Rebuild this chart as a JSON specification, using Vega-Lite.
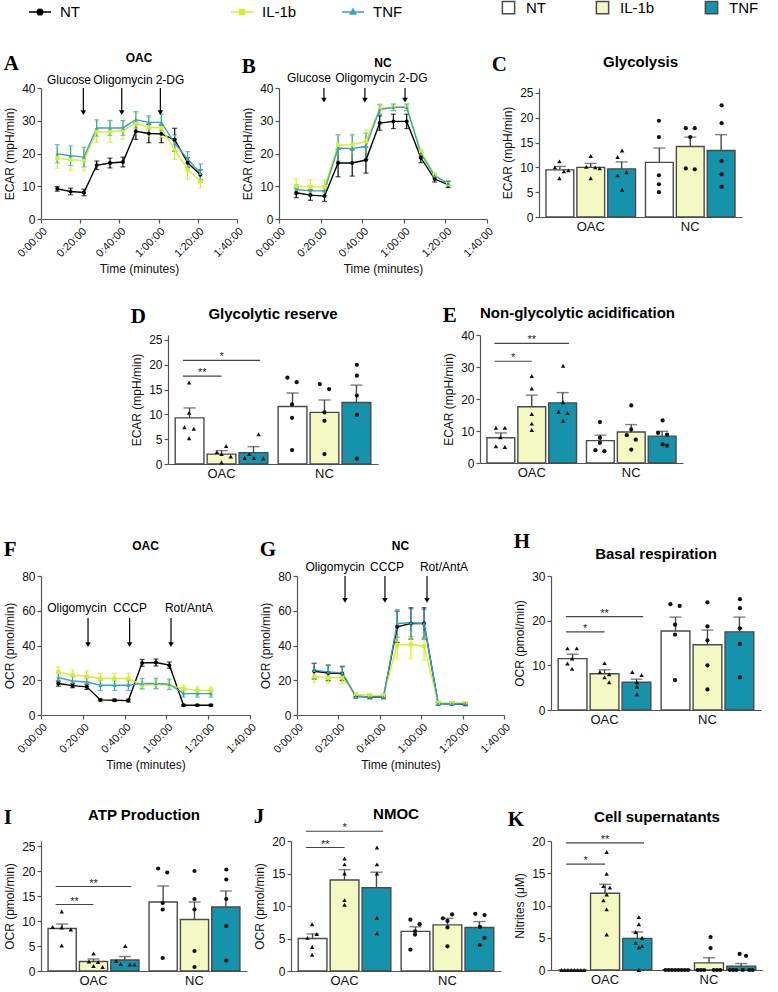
{
"$schema":"https://vega.github.io/schema/vega-lite/v6.json",
"padding":{"left":3,"top":0,"right":0,"bottom":0},
"autosize":{"type":"pad"},
"background":"white",
"config":{
 "font":"Liberation Sans",
 "view":{"stroke":null},
 "axis":{"labelFont":"Liberation Sans","titleFont":"Liberation Sans","labelFontSize":12,"titleFontSize":12,"titleFontWeight":"normal","labelColor":"#111","titleColor":"#111","domainColor":"#555","tickColor":"#555","domainWidth":1.2,"tickWidth":1.2,"tickSize":4,"grid":false,"labelPadding":2,"titlePadding":5,"labelOverlap":false},
 "axisY":{"labelOverlap":false},
 "title":{"font":"Liberation Sans","fontWeight":"bold","fontSize":12,"color":"#000","offset":6,"frame":"group"},
 "legend":{"labelFont":"Liberation Sans"}
},
"datasets":{
"kin":[
{"p":"A","g":"NT","t":8.3,"v":9.2,"e":0.7},{"p":"A","g":"NT","t":15.1,"v":8.4,"e":1},{"p":"A","g":"NT","t":21.9,"v":8.1,"e":1},{"p":"A","g":"NT","t":28.4,"v":16.4,"e":1.3},{"p":"A","g":"NT","t":35.2,"v":17.1,"e":1.5},{"p":"A","g":"NT","t":41.8,"v":17.4,"e":1.5},{"p":"A","g":"NT","t":48.4,"v":26.8,"e":2.5},{"p":"A","g":"NT","t":55,"v":26.1,"e":2.8},{"p":"A","g":"NT","t":61.4,"v":26,"e":2.7},{"p":"A","g":"NT","t":68.2,"v":24.2,"e":3.5},{"p":"A","g":"NT","t":74.8,"v":17.2,"e":1.5},{"p":"A","g":"NT","t":81.3,"v":13.5,"e":1.5},
{"p":"A","g":"IL-1b","t":8.3,"v":18.5,"e":3},{"p":"A","g":"IL-1b","t":15.1,"v":18.1,"e":3.2},{"p":"A","g":"IL-1b","t":21.9,"v":17.9,"e":3.2},{"p":"A","g":"IL-1b","t":28.4,"v":26.6,"e":3.2},{"p":"A","g":"IL-1b","t":35.2,"v":26.6,"e":3.2},{"p":"A","g":"IL-1b","t":41.8,"v":27.1,"e":2.8},{"p":"A","g":"IL-1b","t":48.4,"v":29.1,"e":3.3},{"p":"A","g":"IL-1b","t":55,"v":28,"e":3},{"p":"A","g":"IL-1b","t":61.4,"v":27.8,"e":3},{"p":"A","g":"IL-1b","t":68.2,"v":21.2,"e":3},{"p":"A","g":"IL-1b","t":74.8,"v":15.1,"e":3},{"p":"A","g":"IL-1b","t":81.3,"v":11.5,"e":2},
{"p":"A","g":"TNF","t":8.3,"v":19.9,"e":2.8},{"p":"A","g":"TNF","t":15.1,"v":19.3,"e":3},{"p":"A","g":"TNF","t":21.9,"v":18.9,"e":3},{"p":"A","g":"TNF","t":28.4,"v":27.8,"e":2.5},{"p":"A","g":"TNF","t":35.2,"v":27.8,"e":2.3},{"p":"A","g":"TNF","t":41.8,"v":27.8,"e":2.3},{"p":"A","g":"TNF","t":48.4,"v":30.3,"e":2.5},{"p":"A","g":"TNF","t":55,"v":29.5,"e":2},{"p":"A","g":"TNF","t":61.4,"v":29.5,"e":2.5},{"p":"A","g":"TNF","t":68.2,"v":23.2,"e":2.5},{"p":"A","g":"TNF","t":74.8,"v":18.3,"e":2.3},{"p":"A","g":"TNF","t":81.3,"v":14,"e":2.8},
{"p":"B","g":"NT","t":8.3,"v":8,"e":1.5},{"p":"B","g":"NT","t":15.1,"v":7.3,"e":1.6},{"p":"B","g":"NT","t":21.9,"v":7,"e":1.6},{"p":"B","g":"NT","t":28.4,"v":17.1,"e":4.2},{"p":"B","g":"NT","t":35.2,"v":17.1,"e":4},{"p":"B","g":"NT","t":41.8,"v":18,"e":4},{"p":"B","g":"NT","t":48.4,"v":29.3,"e":2.2},{"p":"B","g":"NT","t":55,"v":29.8,"e":2.2},{"p":"B","g":"NT","t":61.4,"v":29.8,"e":2.2},{"p":"B","g":"NT","t":68.2,"v":18.7,"e":1.5},{"p":"B","g":"NT","t":74.8,"v":12.2,"e":0.9},{"p":"B","g":"NT","t":81.3,"v":10.5,"e":0.9},
{"p":"B","g":"IL-1b","t":8.3,"v":10,"e":2.2},{"p":"B","g":"IL-1b","t":15.1,"v":9.8,"e":2.2},{"p":"B","g":"IL-1b","t":21.9,"v":9.8,"e":2.2},{"p":"B","g":"IL-1b","t":28.4,"v":22.6,"e":3.2},{"p":"B","g":"IL-1b","t":35.2,"v":22.7,"e":3.2},{"p":"B","g":"IL-1b","t":41.8,"v":23.7,"e":3.5},{"p":"B","g":"IL-1b","t":48.4,"v":33.7,"e":1.5},{"p":"B","g":"IL-1b","t":55,"v":34.1,"e":1},{"p":"B","g":"IL-1b","t":61.4,"v":34.1,"e":1},{"p":"B","g":"IL-1b","t":68.2,"v":20.7,"e":0.5},{"p":"B","g":"IL-1b","t":74.8,"v":13.5,"e":0.5},{"p":"B","g":"IL-1b","t":81.3,"v":10.7,"e":0.5},
{"p":"B","g":"TNF","t":8.3,"v":9,"e":1.5},{"p":"B","g":"TNF","t":15.1,"v":8.6,"e":1.5},{"p":"B","g":"TNF","t":21.9,"v":8.6,"e":1.5},{"p":"B","g":"TNF","t":28.4,"v":21.7,"e":4},{"p":"B","g":"TNF","t":35.2,"v":21.5,"e":4.2},{"p":"B","g":"TNF","t":41.8,"v":22.2,"e":4},{"p":"B","g":"TNF","t":48.4,"v":33.4,"e":1.5},{"p":"B","g":"TNF","t":55,"v":34.1,"e":1},{"p":"B","g":"TNF","t":61.4,"v":34.1,"e":1},{"p":"B","g":"TNF","t":68.2,"v":20,"e":0.8},{"p":"B","g":"TNF","t":74.8,"v":13.2,"e":0.6},{"p":"B","g":"TNF","t":81.3,"v":10.9,"e":0.8},
{"p":"F","g":"NT","t":8.3,"v":18.1,"e":1.5},{"p":"F","g":"NT","t":15.1,"v":16.9,"e":1.2},{"p":"F","g":"NT","t":21.9,"v":16.2,"e":1.5},{"p":"F","g":"NT","t":28.4,"v":8.7,"e":0.6},{"p":"F","g":"NT","t":35.2,"v":8.5,"e":0.6},{"p":"F","g":"NT","t":41.8,"v":8.3,"e":0.8},{"p":"F","g":"NT","t":48.4,"v":30,"e":2},{"p":"F","g":"NT","t":55,"v":30.2,"e":2},{"p":"F","g":"NT","t":61.4,"v":28.7,"e":1.8},{"p":"F","g":"NT","t":68.2,"v":5.6,"e":0.5},{"p":"F","g":"NT","t":74.8,"v":5.6,"e":0.5},{"p":"F","g":"NT","t":81.3,"v":5.6,"e":0.5},
{"p":"F","g":"IL-1b","t":8.3,"v":24.8,"e":3},{"p":"F","g":"IL-1b","t":15.1,"v":22.9,"e":3},{"p":"F","g":"IL-1b","t":21.9,"v":22.3,"e":3},{"p":"F","g":"IL-1b","t":28.4,"v":21,"e":3},{"p":"F","g":"IL-1b","t":35.2,"v":21,"e":3},{"p":"F","g":"IL-1b","t":41.8,"v":21,"e":3},{"p":"F","g":"IL-1b","t":48.4,"v":17.1,"e":2.5},{"p":"F","g":"IL-1b","t":55,"v":17.7,"e":2.5},{"p":"F","g":"IL-1b","t":61.4,"v":17.1,"e":2.5},{"p":"F","g":"IL-1b","t":68.2,"v":15.2,"e":2},{"p":"F","g":"IL-1b","t":74.8,"v":14.2,"e":2},{"p":"F","g":"IL-1b","t":81.3,"v":14.2,"e":2},
{"p":"F","g":"TNF","t":8.3,"v":21.5,"e":2.5},{"p":"F","g":"TNF","t":15.1,"v":19.6,"e":2.5},{"p":"F","g":"TNF","t":21.9,"v":19,"e":2.5},{"p":"F","g":"TNF","t":28.4,"v":17.1,"e":3},{"p":"F","g":"TNF","t":35.2,"v":17.1,"e":3},{"p":"F","g":"TNF","t":41.8,"v":17.1,"e":3},{"p":"F","g":"TNF","t":48.4,"v":18.1,"e":3},{"p":"F","g":"TNF","t":55,"v":18.1,"e":3},{"p":"F","g":"TNF","t":61.4,"v":17.7,"e":3},{"p":"F","g":"TNF","t":68.2,"v":12.3,"e":2},{"p":"F","g":"TNF","t":74.8,"v":12.3,"e":2},{"p":"F","g":"TNF","t":81.3,"v":12.3,"e":2},
{"p":"G","g":"NT","t":8.3,"v":25.2,"e":4.5},{"p":"G","g":"NT","t":15.1,"v":24.2,"e":4.5},{"p":"G","g":"NT","t":21.9,"v":23.8,"e":4},{"p":"G","g":"NT","t":28.4,"v":10.8,"e":1},{"p":"G","g":"NT","t":35.2,"v":10.4,"e":1},{"p":"G","g":"NT","t":41.8,"v":10.4,"e":1},{"p":"G","g":"NT","t":48.4,"v":50.8,"e":9},{"p":"G","g":"NT","t":55,"v":52.7,"e":9},{"p":"G","g":"NT","t":61.4,"v":52.7,"e":9},{"p":"G","g":"NT","t":68.2,"v":6.5,"e":0.8},{"p":"G","g":"NT","t":74.8,"v":6.5,"e":0.8},{"p":"G","g":"NT","t":81.3,"v":6.2,"e":0.8},
{"p":"G","g":"IL-1b","t":8.3,"v":22.3,"e":3.5},{"p":"G","g":"IL-1b","t":15.1,"v":21.5,"e":3.5},{"p":"G","g":"IL-1b","t":21.9,"v":21.5,"e":3.5},{"p":"G","g":"IL-1b","t":28.4,"v":11.9,"e":1},{"p":"G","g":"IL-1b","t":35.2,"v":11.3,"e":1},{"p":"G","g":"IL-1b","t":41.8,"v":11.3,"e":1},{"p":"G","g":"IL-1b","t":48.4,"v":40.2,"e":8},{"p":"G","g":"IL-1b","t":55,"v":40.6,"e":8},{"p":"G","g":"IL-1b","t":61.4,"v":39.6,"e":8},{"p":"G","g":"IL-1b","t":68.2,"v":6.9,"e":0.8},{"p":"G","g":"IL-1b","t":74.8,"v":6.9,"e":0.8},{"p":"G","g":"IL-1b","t":81.3,"v":6.9,"e":0.8},
{"p":"G","g":"TNF","t":8.3,"v":25.8,"e":4},{"p":"G","g":"TNF","t":15.1,"v":24.8,"e":4},{"p":"G","g":"TNF","t":21.9,"v":24.2,"e":4},{"p":"G","g":"TNF","t":28.4,"v":10.8,"e":1},{"p":"G","g":"TNF","t":35.2,"v":10.4,"e":1},{"p":"G","g":"TNF","t":41.8,"v":10.4,"e":1},{"p":"G","g":"TNF","t":48.4,"v":52.7,"e":8},{"p":"G","g":"TNF","t":55,"v":53.1,"e":8},{"p":"G","g":"TNF","t":61.4,"v":52.7,"e":8},{"p":"G","g":"TNF","t":68.2,"v":6.5,"e":0.8},{"p":"G","g":"TNF","t":74.8,"v":6.5,"e":0.8},{"p":"G","g":"TNF","t":81.3,"v":6.5,"e":0.8}
],
"inj":[
{"p":"A","lab":"Glucose","x":21.6,"lx":14.3,"ly":42.4,"y1":40,"y2":32.5},
{"p":"A","lab":"Oligomycin","x":41.2,"lx":41.8,"ly":42.4,"y1":40,"y2":32.5},
{"p":"A","lab":"2-DG","x":60.9,"lx":65.8,"ly":42.4,"y1":40,"y2":32.5},
{"p":"B","lab":"Glucose","x":21.6,"lx":14.4,"ly":43.2,"y1":40,"y2":36.3},
{"p":"B","lab":"Oligomycin","x":41.3,"lx":41.3,"ly":43.2,"y1":40,"y2":36.3},
{"p":"B","lab":"2-DG","x":60.6,"lx":64.5,"ly":43.2,"y1":40,"y2":36.3},
{"p":"F","lab":"Oligomycin","x":22.5,"lx":17.2,"ly":61.6,"y1":55.8,"y2":40.5},
{"p":"F","lab":"CCCP","x":42.4,"lx":42.6,"ly":61.6,"y1":55.8,"y2":40.5},
{"p":"F","lab":"Rot/AntA","x":62.2,"lx":70.8,"ly":61.6,"y1":55.8,"y2":40.5},
{"p":"G","lab":"Oligomycin","x":23.2,"lx":18.4,"ly":85.2,"y1":80,"y2":66},
{"p":"G","lab":"CCCP","x":42.5,"lx":43.5,"ly":85.2,"y1":80,"y2":66},
{"p":"G","lab":"Rot/AntA","x":62.8,"lx":71,"ly":85.2,"y1":80,"y2":66}
],
"bars":[
{"p":"C","r":"OAC","g":"NT","m":9.5,"h":10.2},{"p":"C","r":"OAC","g":"IL-1b","m":10,"h":10.8},{"p":"C","r":"OAC","g":"TNF","m":9.7,"h":11.1},{"p":"C","r":"NC","g":"NT","m":11,"h":13.9},{"p":"C","r":"NC","g":"IL-1b","m":14.2,"h":16.1},{"p":"C","r":"NC","g":"TNF","m":13.4,"h":16.6},
{"p":"D","r":"OAC","g":"NT","m":9.3,"h":11.3},{"p":"D","r":"OAC","g":"IL-1b","m":2,"h":2.7},{"p":"D","r":"OAC","g":"TNF","m":2.3,"h":3.5},{"p":"D","r":"NC","g":"NT","m":11.6,"h":14.3},{"p":"D","r":"NC","g":"IL-1b","m":10.4,"h":12.9},{"p":"D","r":"NC","g":"TNF","m":12.4,"h":15.9},
{"p":"E","r":"OAC","g":"NT","m":7.9,"h":9.4},{"p":"E","r":"OAC","g":"IL-1b","m":17.6,"h":21.2},{"p":"E","r":"OAC","g":"TNF","m":18.8,"h":22},{"p":"E","r":"NC","g":"NT","m":7,"h":8.7},{"p":"E","r":"NC","g":"IL-1b","m":9.7,"h":12},{"p":"E","r":"NC","g":"TNF","m":8.4,"h":9.9},
{"p":"H","r":"OAC","g":"NT","m":11.5,"h":12.5},{"p":"H","r":"OAC","g":"IL-1b","m":8.1,"h":9},{"p":"H","r":"OAC","g":"TNF","m":6.2,"h":6.9},{"p":"H","r":"NC","g":"NT","m":17.7,"h":20.8},{"p":"H","r":"NC","g":"IL-1b","m":14.6,"h":17.9},{"p":"H","r":"NC","g":"TNF","m":17.5,"h":20.8},
{"p":"I","r":"OAC","g":"NT","m":8.5,"h":9.4},{"p":"I","r":"OAC","g":"IL-1b","m":1.9,"h":2.4},{"p":"I","r":"OAC","g":"TNF","m":2.2,"h":2.9},{"p":"I","r":"NC","g":"NT","m":13.8,"h":17},{"p":"I","r":"NC","g":"IL-1b","m":10.3,"h":13.8},{"p":"I","r":"NC","g":"TNF","m":12.8,"h":16},
{"p":"J","r":"OAC","g":"NT","m":5,"h":5.7},{"p":"J","r":"OAC","g":"IL-1b","m":14,"h":15.6},{"p":"J","r":"OAC","g":"TNF","m":12.8,"h":15.2},{"p":"J","r":"NC","g":"NT","m":6.1,"h":6.8},{"p":"J","r":"NC","g":"IL-1b","m":7.1,"h":8.1},{"p":"J","r":"NC","g":"TNF","m":6.7,"h":7.6},
{"p":"K","r":"OAC","g":"NT","m":0,"h":0},{"p":"K","r":"OAC","g":"IL-1b","m":11.9,"h":13.3},{"p":"K","r":"OAC","g":"TNF","m":4.9,"h":5.9},{"p":"K","r":"NC","g":"NT","m":0,"h":0},{"p":"K","r":"NC","g":"IL-1b","m":1.1,"h":1.9},{"p":"K","r":"NC","g":"TNF","m":0.6,"h":1}
],
"pts":[
{"p":"C","r":"OAC","g":"NT","k":3,"v":11.2},{"p":"C","r":"OAC","g":"NT","k":2,"v":10},{"p":"C","r":"OAC","g":"NT","k":5,"v":9.4},{"p":"C","r":"OAC","g":"NT","k":4,"v":9.2},{"p":"C","r":"OAC","g":"NT","k":3,"v":7.8},
{"p":"C","r":"OAC","g":"IL-1b","k":3,"v":12.3},{"p":"C","r":"OAC","g":"IL-1b","k":2,"v":10.1},{"p":"C","r":"OAC","g":"IL-1b","k":4,"v":10},{"p":"C","r":"OAC","g":"IL-1b","k":5,"v":9.8},{"p":"C","r":"OAC","g":"IL-1b","k":3,"v":7.8},
{"p":"C","r":"OAC","g":"TNF","k":3,"v":13.4},{"p":"C","r":"OAC","g":"TNF","k":2,"v":12.1},{"p":"C","r":"OAC","g":"TNF","k":4,"v":9},{"p":"C","r":"OAC","g":"TNF","k":2,"v":8.4},{"p":"C","r":"OAC","g":"TNF","k":3,"v":5.5},
{"p":"C","r":"NC","g":"NT","k":3,"v":19.4},{"p":"C","r":"NC","g":"NT","k":3,"v":16.1},{"p":"C","r":"NC","g":"NT","k":3,"v":8.4},{"p":"C","r":"NC","g":"NT","k":3,"v":6.6},{"p":"C","r":"NC","g":"NT","k":3,"v":5},
{"p":"C","r":"NC","g":"IL-1b","k":2,"v":17.9},{"p":"C","r":"NC","g":"IL-1b","k":4,"v":17.9},{"p":"C","r":"NC","g":"IL-1b","k":3,"v":16.1},{"p":"C","r":"NC","g":"IL-1b","k":2,"v":9.8},{"p":"C","r":"NC","g":"IL-1b","k":4,"v":9.6},
{"p":"C","r":"NC","g":"TNF","k":3,"v":22.5},{"p":"C","r":"NC","g":"TNF","k":3,"v":18.9},{"p":"C","r":"NC","g":"TNF","k":3,"v":11.3},{"p":"C","r":"NC","g":"TNF","k":3,"v":8.6},{"p":"C","r":"NC","g":"TNF","k":3,"v":6.1},
{"p":"D","r":"OAC","g":"NT","k":3,"v":16.4},{"p":"D","r":"OAC","g":"NT","k":3,"v":10.3},{"p":"D","r":"OAC","g":"NT","k":2,"v":7.4},{"p":"D","r":"OAC","g":"NT","k":4,"v":7.1},{"p":"D","r":"OAC","g":"NT","k":3,"v":5.2},
{"p":"D","r":"OAC","g":"IL-1b","k":4,"v":3.6},{"p":"D","r":"OAC","g":"IL-1b","k":2,"v":2.4},{"p":"D","r":"OAC","g":"IL-1b","k":3,"v":2},{"p":"D","r":"OAC","g":"IL-1b","k":5,"v":1.5},{"p":"D","r":"OAC","g":"IL-1b","k":3,"v":0.3},
{"p":"D","r":"OAC","g":"TNF","k":4,"v":6},{"p":"D","r":"OAC","g":"TNF","k":2,"v":2},{"p":"D","r":"OAC","g":"TNF","k":1,"v":1.2},{"p":"D","r":"OAC","g":"TNF","k":3,"v":1.2},{"p":"D","r":"OAC","g":"TNF","k":5,"v":1.1},
{"p":"D","r":"NC","g":"NT","k":2,"v":17.4},{"p":"D","r":"NC","g":"NT","k":4,"v":16.5},{"p":"D","r":"NC","g":"NT","k":3,"v":12},{"p":"D","r":"NC","g":"NT","k":3,"v":9.3},{"p":"D","r":"NC","g":"NT","k":3,"v":2.8},
{"p":"D","r":"NC","g":"IL-1b","k":2,"v":16.1},{"p":"D","r":"NC","g":"IL-1b","k":4,"v":15.1},{"p":"D","r":"NC","g":"IL-1b","k":3,"v":10.4},{"p":"D","r":"NC","g":"IL-1b","k":3,"v":8.7},{"p":"D","r":"NC","g":"IL-1b","k":3,"v":2},
{"p":"D","r":"NC","g":"TNF","k":3,"v":20},{"p":"D","r":"NC","g":"TNF","k":3,"v":17.8},{"p":"D","r":"NC","g":"TNF","k":3,"v":13.8},{"p":"D","r":"NC","g":"TNF","k":3,"v":9.9},{"p":"D","r":"NC","g":"TNF","k":3,"v":1.1},
{"p":"E","r":"OAC","g":"NT","k":2,"v":11},{"p":"E","r":"OAC","g":"NT","k":4,"v":11},{"p":"E","r":"OAC","g":"NT","k":3,"v":8},{"p":"E","r":"OAC","g":"NT","k":2,"v":5.2},{"p":"E","r":"OAC","g":"NT","k":4,"v":5},
{"p":"E","r":"OAC","g":"IL-1b","k":3,"v":27.2},{"p":"E","r":"OAC","g":"IL-1b","k":3,"v":23.3},{"p":"E","r":"OAC","g":"IL-1b","k":3,"v":15.3},{"p":"E","r":"OAC","g":"IL-1b","k":3,"v":12.3},{"p":"E","r":"OAC","g":"IL-1b","k":3,"v":10.3},
{"p":"E","r":"OAC","g":"TNF","k":3,"v":30.4},{"p":"E","r":"OAC","g":"TNF","k":3,"v":19},{"p":"E","r":"OAC","g":"TNF","k":2,"v":16},{"p":"E","r":"OAC","g":"TNF","k":4,"v":15.6},{"p":"E","r":"OAC","g":"TNF","k":3,"v":13.2},
{"p":"E","r":"NC","g":"NT","k":3,"v":12.8},{"p":"E","r":"NC","g":"NT","k":3,"v":7.9},{"p":"E","r":"NC","g":"NT","k":3,"v":6.3},{"p":"E","r":"NC","g":"NT","k":2,"v":4},{"p":"E","r":"NC","g":"NT","k":4,"v":3.7},
{"p":"E","r":"NC","g":"IL-1b","k":3,"v":18},{"p":"E","r":"NC","g":"IL-1b","k":3,"v":10.5},{"p":"E","r":"NC","g":"IL-1b","k":2,"v":8.7},{"p":"E","r":"NC","g":"IL-1b","k":4,"v":7.3},{"p":"E","r":"NC","g":"IL-1b","k":3,"v":4.2},
{"p":"E","r":"NC","g":"TNF","k":3,"v":13.3},{"p":"E","r":"NC","g":"TNF","k":2,"v":9.4},{"p":"E","r":"NC","g":"TNF","k":4,"v":8.9},{"p":"E","r":"NC","g":"TNF","k":3,"v":5.8},{"p":"E","r":"NC","g":"TNF","k":4,"v":5.4},
{"p":"H","r":"OAC","g":"NT","k":2,"v":13.8},{"p":"H","r":"OAC","g":"NT","k":4,"v":13.8},{"p":"H","r":"OAC","g":"NT","k":3,"v":11.5},{"p":"H","r":"OAC","g":"NT","k":2,"v":10.4},{"p":"H","r":"OAC","g":"NT","k":3,"v":9.2},
{"p":"H","r":"OAC","g":"IL-1b","k":3,"v":10.5},{"p":"H","r":"OAC","g":"IL-1b","k":2,"v":8.5},{"p":"H","r":"OAC","g":"IL-1b","k":4,"v":8},{"p":"H","r":"OAC","g":"IL-1b","k":3,"v":7.3},{"p":"H","r":"OAC","g":"IL-1b","k":4,"v":6.2},
{"p":"H","r":"OAC","g":"TNF","k":2,"v":8.5},{"p":"H","r":"OAC","g":"TNF","k":4,"v":7.8},{"p":"H","r":"OAC","g":"TNF","k":3,"v":6.2},{"p":"H","r":"OAC","g":"TNF","k":3,"v":5.2},{"p":"H","r":"OAC","g":"TNF","k":3,"v":3.5},
{"p":"H","r":"NC","g":"NT","k":2,"v":23.7},{"p":"H","r":"NC","g":"NT","k":4,"v":23.3},{"p":"H","r":"NC","g":"NT","k":3,"v":19.1},{"p":"H","r":"NC","g":"NT","k":3,"v":16.9},{"p":"H","r":"NC","g":"NT","k":3,"v":6.7},
{"p":"H","r":"NC","g":"IL-1b","k":3,"v":24.1},{"p":"H","r":"NC","g":"IL-1b","k":3,"v":18.7},{"p":"H","r":"NC","g":"IL-1b","k":3,"v":15.6},{"p":"H","r":"NC","g":"IL-1b","k":3,"v":10},{"p":"H","r":"NC","g":"IL-1b","k":3,"v":4.6},
{"p":"H","r":"NC","g":"TNF","k":3,"v":24.8},{"p":"H","r":"NC","g":"TNF","k":3,"v":22.8},{"p":"H","r":"NC","g":"TNF","k":3,"v":18.3},{"p":"H","r":"NC","g":"TNF","k":3,"v":14.8},{"p":"H","r":"NC","g":"TNF","k":3,"v":7.3},
{"p":"I","r":"OAC","g":"NT","k":3,"v":11.9},{"p":"I","r":"OAC","g":"NT","k":1,"v":8.8},{"p":"I","r":"OAC","g":"NT","k":3,"v":8.7},{"p":"I","r":"OAC","g":"NT","k":5,"v":8.3},{"p":"I","r":"OAC","g":"NT","k":3,"v":5.1},
{"p":"I","r":"OAC","g":"IL-1b","k":3,"v":3.5},{"p":"I","r":"OAC","g":"IL-1b","k":2,"v":1.9},{"p":"I","r":"OAC","g":"IL-1b","k":4,"v":1.8},{"p":"I","r":"OAC","g":"IL-1b","k":3,"v":1},{"p":"I","r":"OAC","g":"IL-1b","k":5,"v":0.8},
{"p":"I","r":"OAC","g":"TNF","k":3,"v":5},{"p":"I","r":"OAC","g":"TNF","k":1,"v":2},{"p":"I","r":"OAC","g":"TNF","k":2,"v":1.4},{"p":"I","r":"OAC","g":"TNF","k":4,"v":1.3},{"p":"I","r":"OAC","g":"TNF","k":5,"v":1.3},
{"p":"I","r":"NC","g":"NT","k":2,"v":20.5},{"p":"I","r":"NC","g":"NT","k":4,"v":19.7},{"p":"I","r":"NC","g":"NT","k":3,"v":13.6},{"p":"I","r":"NC","g":"NT","k":3,"v":12.3},{"p":"I","r":"NC","g":"NT","k":3,"v":2.6},
{"p":"I","r":"NC","g":"IL-1b","k":3,"v":20},{"p":"I","r":"NC","g":"IL-1b","k":3,"v":14.4},{"p":"I","r":"NC","g":"IL-1b","k":3,"v":12.3},{"p":"I","r":"NC","g":"IL-1b","k":3,"v":4},{"p":"I","r":"NC","g":"IL-1b","k":3,"v":0.8},
{"p":"I","r":"NC","g":"TNF","k":3,"v":20.3},{"p":"I","r":"NC","g":"TNF","k":3,"v":18.3},{"p":"I","r":"NC","g":"TNF","k":3,"v":14.4},{"p":"I","r":"NC","g":"TNF","k":3,"v":9},{"p":"I","r":"NC","g":"TNF","k":3,"v":2.1},
{"p":"J","r":"OAC","g":"NT","k":3,"v":7.2},{"p":"J","r":"OAC","g":"NT","k":4,"v":5.7},{"p":"J","r":"OAC","g":"NT","k":2,"v":5.1},{"p":"J","r":"OAC","g":"NT","k":3,"v":3.7},{"p":"J","r":"OAC","g":"NT","k":3,"v":2.5},
{"p":"J","r":"OAC","g":"IL-1b","k":3,"v":17.3},{"p":"J","r":"OAC","g":"IL-1b","k":3,"v":16.4},{"p":"J","r":"OAC","g":"IL-1b","k":3,"v":15},{"p":"J","r":"OAC","g":"IL-1b","k":3,"v":10.9},{"p":"J","r":"OAC","g":"IL-1b","k":3,"v":10.2},
{"p":"J","r":"OAC","g":"TNF","k":3,"v":19},{"p":"J","r":"OAC","g":"TNF","k":3,"v":16.4},{"p":"J","r":"OAC","g":"TNF","k":3,"v":15},{"p":"J","r":"OAC","g":"TNF","k":3,"v":8.2},{"p":"J","r":"OAC","g":"TNF","k":3,"v":5.8},
{"p":"J","r":"NC","g":"NT","k":2,"v":7.9},{"p":"J","r":"NC","g":"NT","k":4,"v":7.2},{"p":"J","r":"NC","g":"NT","k":3,"v":6.1},{"p":"J","r":"NC","g":"NT","k":3,"v":5.6},{"p":"J","r":"NC","g":"NT","k":2,"v":3.3},
{"p":"J","r":"NC","g":"IL-1b","k":4,"v":8.7},{"p":"J","r":"NC","g":"IL-1b","k":2,"v":8.1},{"p":"J","r":"NC","g":"IL-1b","k":3,"v":7.7},{"p":"J","r":"NC","g":"IL-1b","k":3,"v":6.7},{"p":"J","r":"NC","g":"IL-1b","k":3,"v":3.8},
{"p":"J","r":"NC","g":"TNF","k":2,"v":8.8},{"p":"J","r":"NC","g":"TNF","k":4,"v":8.6},{"p":"J","r":"NC","g":"TNF","k":3,"v":6.8},{"p":"J","r":"NC","g":"TNF","k":4,"v":5.1},{"p":"J","r":"NC","g":"TNF","k":3,"v":4},
{"p":"K","r":"OAC","g":"NT","k":1,"v":0},{"p":"K","r":"OAC","g":"NT","k":2,"v":0},{"p":"K","r":"OAC","g":"NT","k":3,"v":0},{"p":"K","r":"OAC","g":"NT","k":4,"v":0},{"p":"K","r":"OAC","g":"NT","k":5,"v":0},{"p":"K","r":"OAC","g":"NT","k":6,"v":0},{"p":"K","r":"OAC","g":"NT","k":7,"v":0},{"p":"K","r":"OAC","g":"NT","k":8,"v":0},
{"p":"K","r":"OAC","g":"IL-1b","k":5,"v":18.3},{"p":"K","r":"OAC","g":"IL-1b","k":5,"v":14.9},{"p":"K","r":"OAC","g":"IL-1b","k":4,"v":13},{"p":"K","r":"OAC","g":"IL-1b","k":6,"v":12.8},{"p":"K","r":"OAC","g":"IL-1b","k":5,"v":11.7},{"p":"K","r":"OAC","g":"IL-1b","k":4,"v":10.8},{"p":"K","r":"OAC","g":"IL-1b","k":5,"v":9.4},{"p":"K","r":"OAC","g":"IL-1b","k":5,"v":5.5},
{"p":"K","r":"OAC","g":"TNF","k":5,"v":8.2},{"p":"K","r":"OAC","g":"TNF","k":5,"v":7.1},{"p":"K","r":"OAC","g":"TNF","k":4,"v":5.9},{"p":"K","r":"OAC","g":"TNF","k":6,"v":5},{"p":"K","r":"OAC","g":"TNF","k":4,"v":4.2},{"p":"K","r":"OAC","g":"TNF","k":6,"v":3.7},{"p":"K","r":"OAC","g":"TNF","k":5,"v":3.5},{"p":"K","r":"OAC","g":"TNF","k":5,"v":0},
{"p":"K","r":"NC","g":"NT","k":1,"v":0},{"p":"K","r":"NC","g":"NT","k":2,"v":0},{"p":"K","r":"NC","g":"NT","k":3,"v":0},{"p":"K","r":"NC","g":"NT","k":4,"v":0},{"p":"K","r":"NC","g":"NT","k":5,"v":0},{"p":"K","r":"NC","g":"NT","k":6,"v":0},{"p":"K","r":"NC","g":"NT","k":7,"v":0},{"p":"K","r":"NC","g":"NT","k":8,"v":0},
{"p":"K","r":"NC","g":"IL-1b","k":5,"v":5.1},{"p":"K","r":"NC","g":"IL-1b","k":5,"v":3.4},{"p":"K","r":"NC","g":"IL-1b","k":1,"v":0},{"p":"K","r":"NC","g":"IL-1b","k":2,"v":0},{"p":"K","r":"NC","g":"IL-1b","k":3,"v":0},{"p":"K","r":"NC","g":"IL-1b","k":6,"v":0},{"p":"K","r":"NC","g":"IL-1b","k":7,"v":0},{"p":"K","r":"NC","g":"IL-1b","k":8,"v":0},
{"p":"K","r":"NC","g":"TNF","k":4,"v":2.5},{"p":"K","r":"NC","g":"TNF","k":6,"v":2.2},{"p":"K","r":"NC","g":"TNF","k":1,"v":0},{"p":"K","r":"NC","g":"TNF","k":2,"v":0},{"p":"K","r":"NC","g":"TNF","k":3,"v":0},{"p":"K","r":"NC","g":"TNF","k":5,"v":0},{"p":"K","r":"NC","g":"TNF","k":7,"v":0},{"p":"K","r":"NC","g":"TNF","k":8,"v":0}
],
"sigl":[
{"p":"D","r":"OAC","c":1,"pos":"NT","y":17.7},{"p":"D","r":"OAC","c":1,"pos":"IL-1b","y":17.7},{"p":"D","r":"OAC","c":2,"pos":"NT","y":20.9},{"p":"D","r":"OAC","c":2,"pos":"TNF","y":20.9},
{"p":"E","r":"OAC","c":1,"pos":"NT","y":31.8},{"p":"E","r":"OAC","c":1,"pos":"IL-1b","y":31.8},{"p":"E","r":"OAC","c":2,"pos":"NT","y":37.4},{"p":"E","r":"OAC","c":2,"pos":"TNF","y":37.4},
{"p":"H","r":"OAC","c":1,"pos":"NT","y":17.5},{"p":"H","r":"OAC","c":1,"pos":"IL-1b","y":17.5},{"p":"H","r":"OAC","c":2,"pos":"NT","y":20.9},{"p":"H","r":"OAC","c":2,"pos":"TNF","y":20.9},
{"p":"I","r":"OAC","c":1,"pos":"NT","y":13.3},{"p":"I","r":"OAC","c":1,"pos":"IL-1b","y":13.3},{"p":"I","r":"OAC","c":2,"pos":"NT","y":16.9},{"p":"I","r":"OAC","c":2,"pos":"TNF","y":16.9},
{"p":"J","r":"OAC","c":1,"pos":"NT","y":19},{"p":"J","r":"OAC","c":1,"pos":"IL-1b","y":19},{"p":"J","r":"OAC","c":2,"pos":"NT","y":21.5},{"p":"J","r":"OAC","c":2,"pos":"TNF","y":21.5},
{"p":"K","r":"OAC","c":1,"pos":"NT","y":16.4},{"p":"K","r":"OAC","c":1,"pos":"IL-1b","y":16.4},{"p":"K","r":"OAC","c":2,"pos":"NT","y":19.7},{"p":"K","r":"OAC","c":2,"pos":"TNF","y":19.7}
],
"sigt":[
{"p":"D","r":"OAC","pos":"a","y":17.7,"s":"**"},{"p":"D","r":"OAC","pos":"IL-1b","y":20.9,"s":"*"},
{"p":"E","r":"OAC","pos":"a","y":31.8,"s":"*"},{"p":"E","r":"OAC","pos":"IL-1b","y":37.4,"s":"**"},
{"p":"H","r":"OAC","pos":"a","y":17.5,"s":"*"},{"p":"H","r":"OAC","pos":"IL-1b","y":20.9,"s":"**"},
{"p":"I","r":"OAC","pos":"a","y":13.3,"s":"**"},{"p":"I","r":"OAC","pos":"IL-1b","y":16.9,"s":"**"},
{"p":"J","r":"OAC","pos":"a","y":19,"s":"**"},{"p":"J","r":"OAC","pos":"IL-1b","y":21.5,"s":"*"},
{"p":"K","r":"OAC","pos":"a","y":16.4,"s":"*"},{"p":"K","r":"OAC","pos":"IL-1b","y":19.7,"s":"**"}
]
},
"spacing":51,
"vconcat":[
{"spacing":30,"vconcat":[
 {"spacing":-4,"hconcat":[
  {"title":{"text":"A","anchor":"start","font":"Liberation Serif","fontSize":21,"fontWeight":"bold","dy":22,"offset":0,"frame":"bounds"},
   "vconcat":[{"width":196,"height":131,"title":{"text":"OAC","offset":9},
    "encoding":{"x":{"field":"t","type":"quantitative","scale":{"domain":[0,100]},"axis":{"values":[0,20,40,60,80,100],"labelExpr":"floor(datum.value/60) + ':' + (datum.value % 60 < 10 ? '0' : '') + (datum.value % 60) + ':00'","labelAngle":-45,"labelFontSize":11,"title":"Time (minutes)"}}},
    "layer":[
     {"data":{"name":"kin"},"transform":[{"filter":"datum.p=='A'"}],"layer":[
      {"mark":{"type":"errorbar","ticks":true,"size":5,"thickness":1.2},"encoding":{"y":{"field":"v","type":"quantitative","scale":{"domain":[0,40]},"axis":{"values":[0,10,20,30,40],"title":"ECAR (mpH/min)","labelOverlap":false}},"yError":{"field":"e"},"color":{"field":"g","type":"nominal","scale":{"domain":["NT","IL-1b","TNF"],"range":["#000000","#d4ee2e","#3aa3bd"]},"legend":{"orient":"none","legendX":-13,"legendY":-88,"direction":"horizontal","title":null,"values":["NT"],"symbolSize":484,"labelFontSize":15,"labelOffset":8,"encode":{"symbols":{"update":{"shape":{"signal":"'M-1,0H1M0.26,0A0.26,0.26,0,1,1,-0.26,0A0.26,0.26,0,1,1,0.26,0Z'"},"fill":{"signal":"'#000000'"},"stroke":{"signal":"'#000000'"},"strokeWidth":{"value":1.5},"opacity":{"value":1}}}}}}}},
      {"mark":{"type":"line","strokeWidth":1.4},"encoding":{"y":{"field":"v","type":"quantitative","scale":{"domain":[0,40]},"axis":{"values":[0,10,20,30,40],"title":"ECAR (mpH/min)","labelOverlap":false}},"stroke":{"field":"g","type":"nominal","scale":{"domain":["NT","TNF","IL-1b"],"range":["#000000","#3aa3bd","#d4ee2e"]},"legend":{"orient":"none","legendX":189,"legendY":-88,"direction":"horizontal","title":null,"values":["IL-1b","TNF"],"symbolSize":484,"symbolStrokeWidth":1.5,"labelFontSize":15,"labelOffset":8,"columnPadding":42,"encode":{"symbols":{"update":{"shape":{"signal":"datum.value === 'IL-1b' ? 'M-1,0H1M-0.22,-0.22H0.22V0.22H-0.22Z' : 'M-1,0H1M0,-0.27L0.25,0.18H-0.25Z'"},"fill":{"signal":"scale('stroke', datum.value)"},"stroke":{"signal":"scale('stroke', datum.value)"},"strokeWidth":{"value":1.5},"opacity":{"value":1}}}}}}}},
      {"mark":{"type":"point","filled":true,"size":16,"opacity":1},"encoding":{"y":{"field":"v","type":"quantitative","axis":{"values":[0,10,20,30,40],"title":"ECAR (mpH/min)","labelOverlap":false}},"color":{"field":"g","type":"nominal","scale":{"domain":["NT","IL-1b","TNF"],"range":["#000000","#d4ee2e","#3aa3bd"]},"legend":{"orient":"none","legendX":-13,"legendY":-88,"direction":"horizontal","title":null,"values":["NT"],"symbolSize":484,"labelFontSize":15,"labelOffset":8,"encode":{"symbols":{"update":{"shape":{"signal":"'M-1,0H1M0.26,0A0.26,0.26,0,1,1,-0.26,0A0.26,0.26,0,1,1,0.26,0Z'"},"fill":{"signal":"'#000000'"},"stroke":{"signal":"'#000000'"},"strokeWidth":{"value":1.5},"opacity":{"value":1}}}}}},"shape":{"field":"g","type":"nominal","scale":{"domain":["TNF","NT","IL-1b"],"range":["triangle-up","circle","square"]},"legend":null}}}
     ]},
     {"data":{"name":"inj"},"transform":[{"filter":"datum.p=='A'"}],"layer":[
      {"mark":{"type":"rule","color":"#000","strokeWidth":1.2},"encoding":{"x":{"field":"x","type":"quantitative","axis":{"values":[0,20,40,60,80,100],"labelExpr":"floor(datum.value/60) + ':' + (datum.value % 60 < 10 ? '0' : '') + (datum.value % 60) + ':00'","labelAngle":-45,"labelFontSize":11,"title":"Time (minutes)"}},"y":{"field":"y1","type":"quantitative","axis":{"values":[0,10,20,30,40],"title":"ECAR (mpH/min)","labelOverlap":false}},"y2":{"field":"y2"}}},
      {"mark":{"type":"point","shape":"triangle-down","filled":true,"color":"#000","size":30,"opacity":1},"encoding":{"x":{"field":"x","type":"quantitative","axis":{"values":[0,20,40,60,80,100],"labelExpr":"floor(datum.value/60) + ':' + (datum.value % 60 < 10 ? '0' : '') + (datum.value % 60) + ':00'","labelAngle":-45,"labelFontSize":11,"title":"Time (minutes)"}},"y":{"field":"y2","type":"quantitative","axis":{"values":[0,10,20,30,40],"title":"ECAR (mpH/min)","labelOverlap":false}}}},
      {"mark":{"type":"text","fontSize":12,"baseline":"middle","color":"#000"},"encoding":{"x":{"field":"lx","type":"quantitative","axis":{"values":[0,20,40,60,80,100],"labelExpr":"floor(datum.value/60) + ':' + (datum.value % 60 < 10 ? '0' : '') + (datum.value % 60) + ':00'","labelAngle":-45,"labelFontSize":11,"title":"Time (minutes)"}},"y":{"field":"ly","type":"quantitative","axis":{"values":[0,10,20,30,40],"title":"ECAR (mpH/min)","labelOverlap":false}},"text":{"field":"lab"}}}
     ]}
    ]}]},
  {"title":{"text":"B","anchor":"start","font":"Liberation Serif","fontSize":21,"fontWeight":"bold","dy":20,"offset":0,"frame":"bounds"},
   "vconcat":[{"width":208,"height":131,"title":{"text":"NC","offset":2},
    "encoding":{"x":{"field":"t","type":"quantitative","scale":{"domain":[0,100]},"axis":{"values":[0,20,40,60,80,100],"labelExpr":"floor(datum.value/60) + ':' + (datum.value % 60 < 10 ? '0' : '') + (datum.value % 60) + ':00'","labelAngle":-45,"labelFontSize":11,"title":"Time (minutes)"}}},
    "layer":[
     {"data":{"name":"kin"},"transform":[{"filter":"datum.p=='B'"}],"layer":[
      {"mark":{"type":"errorbar","ticks":true,"size":5,"thickness":1.2},"encoding":{"y":{"field":"v","type":"quantitative","scale":{"domain":[0,40]},"axis":{"values":[0,10,20,30,40],"title":"ECAR (mpH/min)","labelOverlap":false}},"yError":{"field":"e"},"color":{"field":"g","type":"nominal","scale":{"domain":["NT","IL-1b","TNF"],"range":["#000000","#d4ee2e","#3aa3bd"]}}}},
      {"mark":{"type":"line","strokeWidth":1.4},"encoding":{"y":{"field":"v","type":"quantitative","scale":{"domain":[0,40]},"axis":{"values":[0,10,20,30,40],"title":"ECAR (mpH/min)","labelOverlap":false}},"stroke":{"field":"g","type":"nominal","scale":{"domain":["NT","TNF","IL-1b"],"range":["#000000","#3aa3bd","#d4ee2e"]}}}},
      {"mark":{"type":"point","filled":true,"size":16,"opacity":1},"encoding":{"y":{"field":"v","type":"quantitative","axis":{"values":[0,10,20,30,40],"title":"ECAR (mpH/min)","labelOverlap":false}},"color":{"field":"g","type":"nominal","scale":{"domain":["NT","IL-1b","TNF"],"range":["#000000","#d4ee2e","#3aa3bd"]}},"shape":{"field":"g","type":"nominal","scale":{"domain":["TNF","NT","IL-1b"],"range":["triangle-up","circle","square"]},"legend":null}}}
     ]},
     {"data":{"name":"inj"},"transform":[{"filter":"datum.p=='B'"}],"layer":[
      {"mark":{"type":"rule","color":"#000","strokeWidth":1.2},"encoding":{"x":{"field":"x","type":"quantitative","axis":{"values":[0,20,40,60,80,100],"labelExpr":"floor(datum.value/60) + ':' + (datum.value % 60 < 10 ? '0' : '') + (datum.value % 60) + ':00'","labelAngle":-45,"labelFontSize":11,"title":"Time (minutes)"}},"y":{"field":"y1","type":"quantitative","axis":{"values":[0,10,20,30,40],"title":"ECAR (mpH/min)","labelOverlap":false}},"y2":{"field":"y2"}}},
      {"mark":{"type":"point","shape":"triangle-down","filled":true,"color":"#000","size":30,"opacity":1},"encoding":{"x":{"field":"x","type":"quantitative","axis":{"values":[0,20,40,60,80,100],"labelExpr":"floor(datum.value/60) + ':' + (datum.value % 60 < 10 ? '0' : '') + (datum.value % 60) + ':00'","labelAngle":-45,"labelFontSize":11,"title":"Time (minutes)"}},"y":{"field":"y2","type":"quantitative","axis":{"values":[0,10,20,30,40],"title":"ECAR (mpH/min)","labelOverlap":false}}}},
      {"mark":{"type":"text","fontSize":12,"baseline":"middle","color":"#000"},"encoding":{"x":{"field":"lx","type":"quantitative","axis":{"values":[0,20,40,60,80,100],"labelExpr":"floor(datum.value/60) + ':' + (datum.value % 60 < 10 ? '0' : '') + (datum.value % 60) + ':00'","labelAngle":-45,"labelFontSize":11,"title":"Time (minutes)"}},"y":{"field":"ly","type":"quantitative","axis":{"values":[0,10,20,30,40],"title":"ECAR (mpH/min)","labelOverlap":false}},"text":{"field":"lab"}}}
     ]}
    ]}]},
  {"title":{"text":"C","anchor":"start","font":"Liberation Serif","fontSize":21,"fontWeight":"bold","dy":20,"dx":-10,"offset":0,"frame":"bounds"},
   "vconcat":[{"width":203,"height":129,"title":{"text":"Glycolysis","fontSize":15,"offset":17},
    "encoding":{"x":{"field":"r","type":"nominal","sort":["OAC","NC"],"scale":{"paddingInner":0.1,"paddingOuter":0.07},"axis":{"title":null,"labelAngle":0,"ticks":false,"labelFontSize":13,"labelPadding":3}}},
    "layer":[
     {"data":{"name":"bars"},"transform":[{"filter":"datum.p=='C'"}],"encoding":{"xOffset":{"field":"g","type":"nominal","scale":{"domain":["NT","IL-1b","TNF"],"paddingInner":0.1,"paddingOuter":0}}},"layer":[
      {"mark":{"type":"bar","stroke":"#4a4a4a","strokeWidth":1.4},"encoding":{"y":{"field":"m","type":"quantitative","scale":{"domain":[0,25]},"axis":{"values":[0,5,10,15,20,25],"title":"ECAR (mpH/min)","labelOverlap":false}},"fill":{"field":"g","type":"nominal","scale":{"range":["#f4f9c4","#ffffff","#1692ab"]},"legend":{"orient":"none","legendX":460,"legendY":-88,"direction":"horizontal","title":null,"values":["NT","IL-1b","TNF"],"symbolType":"square","symbolSize":150,"labelFontSize":15,"labelOffset":10,"columnPadding":47,"encode":{"symbols":{"update":{"stroke":{"value":"#333"},"strokeWidth":{"value":1.2}}}}}}}},
      {"mark":{"type":"rule","color":"#4a4a4a","strokeWidth":1.4},"encoding":{"y":{"field":"m","type":"quantitative","axis":{"values":[0,5,10,15,20,25],"title":"ECAR (mpH/min)","labelOverlap":false}},"y2":{"field":"h"}}},
      {"mark":{"type":"tick","color":"#4a4a4a","thickness":1.4,"size":12},"encoding":{"y":{"field":"h","type":"quantitative","axis":{"values":[0,5,10,15,20,25],"title":"ECAR (mpH/min)","labelOverlap":false}}}}
     ]},
     {"data":{"name":"pts"},"transform":[{"filter":"datum.p=='C' && datum.r=='OAC'"},{"calculate":"datum.g + datum.k","as":"s"}],"mark":{"type":"point","shape":"triangle-up","filled":true,"color":"#111","size":20,"opacity":1},"encoding":{"xOffset":{"field":"s","type":"nominal","scale":{"domain":["NT0","NT1","NT2","NT3","NT4","NT5","NT6","IL-1b0","IL-1b1","IL-1b2","IL-1b3","IL-1b4","IL-1b5","IL-1b6","TNF0","TNF1","TNF2","TNF3","TNF4","TNF5","TNF6"],"paddingInner":0,"paddingOuter":0}},"y":{"field":"v","type":"quantitative","axis":{"values":[0,5,10,15,20,25],"title":"ECAR (mpH/min)","labelOverlap":false}}}},
     {"data":{"name":"pts"},"transform":[{"filter":"datum.p=='C' && datum.r=='NC'"},{"calculate":"datum.g + datum.k","as":"s"}],"mark":{"type":"point","shape":"circle","filled":true,"color":"#111","size":18,"opacity":1},"encoding":{"xOffset":{"field":"s","type":"nominal","scale":{"domain":["NT0","NT1","NT2","NT3","NT4","NT5","NT6","IL-1b0","IL-1b1","IL-1b2","IL-1b3","IL-1b4","IL-1b5","IL-1b6","TNF0","TNF1","TNF2","TNF3","TNF4","TNF5","TNF6"],"paddingInner":0,"paddingOuter":0}},"y":{"field":"v","type":"quantitative","axis":{"values":[0,5,10,15,20,25],"title":"ECAR (mpH/min)","labelOverlap":false}}}}
    ],
    "resolve":{"scale":{"xOffset":"independent"}}}]}
 ]},
 {"spacing":0,"hconcat":[
  {"width":89,"height":20,"data":{"values":[{"a":1}]},"mark":{"type":"point","opacity":0},"encoding":{}},
  {"spacing":64,"hconcat":[
   {"title":{"text":"D","anchor":"start","font":"Liberation Serif","fontSize":21,"fontWeight":"bold","dy":20,"offset":0,"frame":"bounds"},
    "vconcat":[{"width":210,"height":129,"title":{"text":"Glycolytic reserve","fontSize":15,"offset":12},
     "encoding":{"x":{"field":"r","type":"nominal","sort":["OAC","NC"],"scale":{"paddingInner":0.1,"paddingOuter":0.07},"axis":{"title":null,"labelAngle":0,"ticks":false,"labelFontSize":13,"labelPadding":3}}},
     "layer":[
      {"data":{"name":"bars"},"transform":[{"filter":"datum.p=='D'"}],"encoding":{"xOffset":{"field":"g","type":"nominal","scale":{"domain":["NT","IL-1b","TNF"],"paddingInner":0.1,"paddingOuter":0}}},"layer":[
       {"mark":{"type":"bar","stroke":"#4a4a4a","strokeWidth":1.4},"encoding":{"y":{"field":"m","type":"quantitative","scale":{"domain":[0,25]},"axis":{"values":[0,5,10,15,20,25],"title":"ECAR (mpH/min)","labelOverlap":false}},"fill":{"field":"g","type":"nominal","scale":{"range":["#f4f9c4","#ffffff","#1692ab"]}}}},
       {"mark":{"type":"rule","color":"#4a4a4a","strokeWidth":1.4},"encoding":{"y":{"field":"m","type":"quantitative","axis":{"values":[0,5,10,15,20,25],"title":"ECAR (mpH/min)","labelOverlap":false}},"y2":{"field":"h"}}},
       {"mark":{"type":"tick","color":"#4a4a4a","thickness":1.4,"size":12},"encoding":{"y":{"field":"h","type":"quantitative","axis":{"values":[0,5,10,15,20,25],"title":"ECAR (mpH/min)","labelOverlap":false}}}}
      ]},
      {"data":{"name":"pts"},"transform":[{"filter":"datum.p=='D' && datum.r=='OAC'"},{"calculate":"datum.g + datum.k","as":"s"}],"mark":{"type":"point","shape":"triangle-up","filled":true,"color":"#111","size":20,"opacity":1},"encoding":{"xOffset":{"field":"s","type":"nominal","scale":{"domain":["NT0","NT1","NT2","NT3","NT4","NT5","NT6","IL-1b0","IL-1b1","IL-1b2","IL-1b3","IL-1b4","IL-1b5","IL-1b6","TNF0","TNF1","TNF2","TNF3","TNF4","TNF5","TNF6"],"paddingInner":0,"paddingOuter":0}},"y":{"field":"v","type":"quantitative","axis":{"values":[0,5,10,15,20,25],"title":"ECAR (mpH/min)","labelOverlap":false}}}},
      {"data":{"name":"pts"},"transform":[{"filter":"datum.p=='D' && datum.r=='NC'"},{"calculate":"datum.g + datum.k","as":"s"}],"mark":{"type":"point","shape":"circle","filled":true,"color":"#111","size":18,"opacity":1},"encoding":{"xOffset":{"field":"s","type":"nominal","scale":{"domain":["NT0","NT1","NT2","NT3","NT4","NT5","NT6","IL-1b0","IL-1b1","IL-1b2","IL-1b3","IL-1b4","IL-1b5","IL-1b6","TNF0","TNF1","TNF2","TNF3","TNF4","TNF5","TNF6"],"paddingInner":0,"paddingOuter":0}},"y":{"field":"v","type":"quantitative","axis":{"values":[0,5,10,15,20,25],"title":"ECAR (mpH/min)","labelOverlap":false}}}},
      {"data":{"name":"sigl"},"transform":[{"filter":"datum.p=='D'"}],"mark":{"type":"line","color":"#444","strokeWidth":1.2},"encoding":{"xOffset":{"field":"pos","type":"nominal","scale":{"domain":["NT","a","IL-1b","b","TNF"],"paddingInner":0,"paddingOuter":0.4}},"y":{"field":"y","type":"quantitative","axis":{"values":[0,5,10,15,20,25],"title":"ECAR (mpH/min)","labelOverlap":false}},"detail":{"field":"c"}}},
      {"data":{"name":"sigt"},"transform":[{"filter":"datum.p=='D'"}],"mark":{"type":"text","fontSize":11,"baseline":"middle","dy":-3,"color":"#222"},"encoding":{"xOffset":{"field":"pos","type":"nominal","scale":{"domain":["NT","a","IL-1b","b","TNF"],"paddingInner":0,"paddingOuter":0.4}},"y":{"field":"y","type":"quantitative","axis":{"values":[0,5,10,15,20,25],"title":"ECAR (mpH/min)","labelOverlap":false}},"text":{"field":"s"}}}
     ],
     "resolve":{"scale":{"xOffset":"independent"}}}]},
   {"title":{"text":"E","anchor":"start","font":"Liberation Serif","fontSize":21,"fontWeight":"bold","dy":20,"offset":0,"frame":"bounds"},
    "vconcat":[{"width":203,"height":128,"title":{"text":"Non-glycolytic acidification","fontSize":15,"offset":8,"anchor":"start"},
     "encoding":{"x":{"field":"r","type":"nominal","sort":["OAC","NC"],"scale":{"paddingInner":0.1,"paddingOuter":0.07},"axis":{"title":null,"labelAngle":0,"ticks":false,"labelFontSize":13,"labelPadding":3}}},
     "layer":[
      {"data":{"name":"bars"},"transform":[{"filter":"datum.p=='E'"}],"encoding":{"xOffset":{"field":"g","type":"nominal","scale":{"domain":["NT","IL-1b","TNF"],"paddingInner":0.1,"paddingOuter":0}}},"layer":[
       {"mark":{"type":"bar","stroke":"#4a4a4a","strokeWidth":1.4},"encoding":{"y":{"field":"m","type":"quantitative","scale":{"domain":[0,40]},"axis":{"values":[0,10,20,30,40],"title":"ECAR (mpH/min)","labelOverlap":false}},"fill":{"field":"g","type":"nominal","scale":{"range":["#f4f9c4","#ffffff","#1692ab"]}}}},
       {"mark":{"type":"rule","color":"#4a4a4a","strokeWidth":1.4},"encoding":{"y":{"field":"m","type":"quantitative","axis":{"values":[0,10,20,30,40],"title":"ECAR (mpH/min)","labelOverlap":false}},"y2":{"field":"h"}}},
       {"mark":{"type":"tick","color":"#4a4a4a","thickness":1.4,"size":12},"encoding":{"y":{"field":"h","type":"quantitative","axis":{"values":[0,10,20,30,40],"title":"ECAR (mpH/min)","labelOverlap":false}}}}
      ]},
      {"data":{"name":"pts"},"transform":[{"filter":"datum.p=='E' && datum.r=='OAC'"},{"calculate":"datum.g + datum.k","as":"s"}],"mark":{"type":"point","shape":"triangle-up","filled":true,"color":"#111","size":20,"opacity":1},"encoding":{"xOffset":{"field":"s","type":"nominal","scale":{"domain":["NT0","NT1","NT2","NT3","NT4","NT5","NT6","IL-1b0","IL-1b1","IL-1b2","IL-1b3","IL-1b4","IL-1b5","IL-1b6","TNF0","TNF1","TNF2","TNF3","TNF4","TNF5","TNF6"],"paddingInner":0,"paddingOuter":0}},"y":{"field":"v","type":"quantitative","axis":{"values":[0,10,20,30,40],"title":"ECAR (mpH/min)","labelOverlap":false}}}},
      {"data":{"name":"pts"},"transform":[{"filter":"datum.p=='E' && datum.r=='NC'"},{"calculate":"datum.g + datum.k","as":"s"}],"mark":{"type":"point","shape":"circle","filled":true,"color":"#111","size":18,"opacity":1},"encoding":{"xOffset":{"field":"s","type":"nominal","scale":{"domain":["NT0","NT1","NT2","NT3","NT4","NT5","NT6","IL-1b0","IL-1b1","IL-1b2","IL-1b3","IL-1b4","IL-1b5","IL-1b6","TNF0","TNF1","TNF2","TNF3","TNF4","TNF5","TNF6"],"paddingInner":0,"paddingOuter":0}},"y":{"field":"v","type":"quantitative","axis":{"values":[0,10,20,30,40],"title":"ECAR (mpH/min)","labelOverlap":false}}}},
      {"data":{"name":"sigl"},"transform":[{"filter":"datum.p=='E'"}],"mark":{"type":"line","color":"#444","strokeWidth":1.2},"encoding":{"xOffset":{"field":"pos","type":"nominal","scale":{"domain":["NT","a","IL-1b","b","TNF"],"paddingInner":0,"paddingOuter":0.4}},"y":{"field":"y","type":"quantitative","axis":{"values":[0,10,20,30,40],"title":"ECAR (mpH/min)","labelOverlap":false}},"detail":{"field":"c"}}},
      {"data":{"name":"sigt"},"transform":[{"filter":"datum.p=='E'"}],"mark":{"type":"text","fontSize":11,"baseline":"middle","dy":-3,"color":"#222"},"encoding":{"xOffset":{"field":"pos","type":"nominal","scale":{"domain":["NT","a","IL-1b","b","TNF"],"paddingInner":0,"paddingOuter":0.4}},"y":{"field":"y","type":"quantitative","axis":{"values":[0,10,20,30,40],"title":"ECAR (mpH/min)","labelOverlap":false}},"text":{"field":"s"}}}
     ],
     "resolve":{"scale":{"xOffset":"independent"}}}]}
  ]}
 ]}
]},
{"spacing":35,"vconcat":[
 {"spacing":1,"hconcat":[
  {"title":{"text":"F","anchor":"start","font":"Liberation Serif","fontSize":21,"fontWeight":"bold","dy":20,"offset":0,"frame":"bounds"},
   "vconcat":[{"width":209,"height":139,"title":{"text":"OAC","offset":17},
    "encoding":{"x":{"field":"t","type":"quantitative","scale":{"domain":[0,100]},"axis":{"values":[0,20,40,60,80,100],"labelExpr":"floor(datum.value/60) + ':' + (datum.value % 60 < 10 ? '0' : '') + (datum.value % 60) + ':00'","labelAngle":-45,"labelFontSize":11,"title":"Time (minutes)"}}},
    "layer":[
     {"data":{"name":"kin"},"transform":[{"filter":"datum.p=='F'"}],"layer":[
      {"mark":{"type":"errorbar","ticks":true,"size":5,"thickness":1.2},"encoding":{"y":{"field":"v","type":"quantitative","scale":{"domain":[0,80]},"axis":{"values":[0,20,40,60,80],"title":"OCR (pmol/min)","labelOverlap":false}},"yError":{"field":"e"},"color":{"field":"g","type":"nominal","scale":{"domain":["NT","IL-1b","TNF"],"range":["#000000","#d4ee2e","#3aa3bd"]}}}},
      {"mark":{"type":"line","strokeWidth":1.4},"encoding":{"y":{"field":"v","type":"quantitative","scale":{"domain":[0,80]},"axis":{"values":[0,20,40,60,80],"title":"OCR (pmol/min)","labelOverlap":false}},"stroke":{"field":"g","type":"nominal","scale":{"domain":["NT","TNF","IL-1b"],"range":["#000000","#3aa3bd","#d4ee2e"]}}}},
      {"mark":{"type":"point","filled":true,"size":16,"opacity":1},"encoding":{"y":{"field":"v","type":"quantitative","axis":{"values":[0,20,40,60,80],"title":"OCR (pmol/min)","labelOverlap":false}},"color":{"field":"g","type":"nominal","scale":{"domain":["NT","IL-1b","TNF"],"range":["#000000","#d4ee2e","#3aa3bd"]}},"shape":{"field":"g","type":"nominal","scale":{"domain":["TNF","NT","IL-1b"],"range":["triangle-up","circle","square"]},"legend":null}}}
     ]},
     {"data":{"name":"inj"},"transform":[{"filter":"datum.p=='F'"}],"layer":[
      {"mark":{"type":"rule","color":"#000","strokeWidth":1.2},"encoding":{"x":{"field":"x","type":"quantitative","axis":{"values":[0,20,40,60,80,100],"labelExpr":"floor(datum.value/60) + ':' + (datum.value % 60 < 10 ? '0' : '') + (datum.value % 60) + ':00'","labelAngle":-45,"labelFontSize":11,"title":"Time (minutes)"}},"y":{"field":"y1","type":"quantitative","axis":{"values":[0,20,40,60,80],"title":"OCR (pmol/min)","labelOverlap":false}},"y2":{"field":"y2"}}},
      {"mark":{"type":"point","shape":"triangle-down","filled":true,"color":"#000","size":30,"opacity":1},"encoding":{"x":{"field":"x","type":"quantitative","axis":{"values":[0,20,40,60,80,100],"labelExpr":"floor(datum.value/60) + ':' + (datum.value % 60 < 10 ? '0' : '') + (datum.value % 60) + ':00'","labelAngle":-45,"labelFontSize":11,"title":"Time (minutes)"}},"y":{"field":"y2","type":"quantitative","axis":{"values":[0,20,40,60,80],"title":"OCR (pmol/min)","labelOverlap":false}}}},
      {"mark":{"type":"text","fontSize":12,"baseline":"middle","color":"#000"},"encoding":{"x":{"field":"lx","type":"quantitative","axis":{"values":[0,20,40,60,80,100],"labelExpr":"floor(datum.value/60) + ':' + (datum.value % 60 < 10 ? '0' : '') + (datum.value % 60) + ':00'","labelAngle":-45,"labelFontSize":11,"title":"Time (minutes)"}},"y":{"field":"ly","type":"quantitative","axis":{"values":[0,20,40,60,80],"title":"OCR (pmol/min)","labelOverlap":false}},"text":{"field":"lab"}}}
     ]}
    ]}]},
  {"title":{"text":"G","anchor":"start","font":"Liberation Serif","fontSize":21,"fontWeight":"bold","dy":20,"offset":0,"frame":"bounds"},
   "vconcat":[{"width":207,"height":139,"title":{"text":"NC","offset":8},
    "encoding":{"x":{"field":"t","type":"quantitative","scale":{"domain":[0,100]},"axis":{"values":[0,20,40,60,80,100],"labelExpr":"floor(datum.value/60) + ':' + (datum.value % 60 < 10 ? '0' : '') + (datum.value % 60) + ':00'","labelAngle":-45,"labelFontSize":11,"title":"Time (minutes)"}}},
    "layer":[
     {"data":{"name":"kin"},"transform":[{"filter":"datum.p=='G'"}],"layer":[
      {"mark":{"type":"errorbar","ticks":true,"size":5,"thickness":1.2},"encoding":{"y":{"field":"v","type":"quantitative","scale":{"domain":[0,80]},"axis":{"values":[0,20,40,60,80],"title":"OCR (pmol/min)","labelOverlap":false}},"yError":{"field":"e"},"color":{"field":"g","type":"nominal","scale":{"domain":["NT","IL-1b","TNF"],"range":["#000000","#d4ee2e","#3aa3bd"]}}}},
      {"mark":{"type":"line","strokeWidth":1.4},"encoding":{"y":{"field":"v","type":"quantitative","scale":{"domain":[0,80]},"axis":{"values":[0,20,40,60,80],"title":"OCR (pmol/min)","labelOverlap":false}},"stroke":{"field":"g","type":"nominal","scale":{"domain":["NT","TNF","IL-1b"],"range":["#000000","#3aa3bd","#d4ee2e"]}}}},
      {"mark":{"type":"point","filled":true,"size":16,"opacity":1},"encoding":{"y":{"field":"v","type":"quantitative","axis":{"values":[0,20,40,60,80],"title":"OCR (pmol/min)","labelOverlap":false}},"color":{"field":"g","type":"nominal","scale":{"domain":["NT","IL-1b","TNF"],"range":["#000000","#d4ee2e","#3aa3bd"]}},"shape":{"field":"g","type":"nominal","scale":{"domain":["TNF","NT","IL-1b"],"range":["triangle-up","circle","square"]},"legend":null}}}
     ]},
     {"data":{"name":"inj"},"transform":[{"filter":"datum.p=='G'"}],"layer":[
      {"mark":{"type":"rule","color":"#000","strokeWidth":1.2},"encoding":{"x":{"field":"x","type":"quantitative","axis":{"values":[0,20,40,60,80,100],"labelExpr":"floor(datum.value/60) + ':' + (datum.value % 60 < 10 ? '0' : '') + (datum.value % 60) + ':00'","labelAngle":-45,"labelFontSize":11,"title":"Time (minutes)"}},"y":{"field":"y1","type":"quantitative","axis":{"values":[0,20,40,60,80],"title":"OCR (pmol/min)","labelOverlap":false}},"y2":{"field":"y2"}}},
      {"mark":{"type":"point","shape":"triangle-down","filled":true,"color":"#000","size":30,"opacity":1},"encoding":{"x":{"field":"x","type":"quantitative","axis":{"values":[0,20,40,60,80,100],"labelExpr":"floor(datum.value/60) + ':' + (datum.value % 60 < 10 ? '0' : '') + (datum.value % 60) + ':00'","labelAngle":-45,"labelFontSize":11,"title":"Time (minutes)"}},"y":{"field":"y2","type":"quantitative","axis":{"values":[0,20,40,60,80],"title":"OCR (pmol/min)","labelOverlap":false}}}},
      {"mark":{"type":"text","fontSize":12,"baseline":"middle","color":"#000"},"encoding":{"x":{"field":"lx","type":"quantitative","axis":{"values":[0,20,40,60,80,100],"labelExpr":"floor(datum.value/60) + ':' + (datum.value % 60 < 10 ? '0' : '') + (datum.value % 60) + ':00'","labelAngle":-45,"labelFontSize":11,"title":"Time (minutes)"}},"y":{"field":"ly","type":"quantitative","axis":{"values":[0,20,40,60,80],"title":"OCR (pmol/min)","labelOverlap":false}},"text":{"field":"lab"}}}
     ]}
    ]}]},
  {"title":{"text":"H","anchor":"start","font":"Liberation Serif","fontSize":21,"fontWeight":"bold","dy":5,"offset":0,"frame":"bounds"},
   "vconcat":[{"width":210,"height":134,"title":{"text":"Basal respiration","fontSize":15,"offset":8},
    "encoding":{"x":{"field":"r","type":"nominal","sort":["OAC","NC"],"scale":{"paddingInner":0.1,"paddingOuter":0.07},"axis":{"title":null,"labelAngle":0,"ticks":false,"labelFontSize":13,"labelPadding":3}}},
    "layer":[
     {"data":{"name":"bars"},"transform":[{"filter":"datum.p=='H'"}],"encoding":{"xOffset":{"field":"g","type":"nominal","scale":{"domain":["NT","IL-1b","TNF"],"paddingInner":0.1,"paddingOuter":0}}},"layer":[
      {"mark":{"type":"bar","stroke":"#4a4a4a","strokeWidth":1.4},"encoding":{"y":{"field":"m","type":"quantitative","scale":{"domain":[0,30]},"axis":{"values":[0,10,20,30],"title":"OCR (pmol/min)","labelOverlap":false}},"fill":{"field":"g","type":"nominal","scale":{"range":["#f4f9c4","#ffffff","#1692ab"]}}}},
      {"mark":{"type":"rule","color":"#4a4a4a","strokeWidth":1.4},"encoding":{"y":{"field":"m","type":"quantitative","axis":{"values":[0,10,20,30],"title":"OCR (pmol/min)","labelOverlap":false}},"y2":{"field":"h"}}},
      {"mark":{"type":"tick","color":"#4a4a4a","thickness":1.4,"size":12},"encoding":{"y":{"field":"h","type":"quantitative","axis":{"values":[0,10,20,30],"title":"OCR (pmol/min)","labelOverlap":false}}}}
     ]},
     {"data":{"name":"pts"},"transform":[{"filter":"datum.p=='H' && datum.r=='OAC'"},{"calculate":"datum.g + datum.k","as":"s"}],"mark":{"type":"point","shape":"triangle-up","filled":true,"color":"#111","size":20,"opacity":1},"encoding":{"xOffset":{"field":"s","type":"nominal","scale":{"domain":["NT0","NT1","NT2","NT3","NT4","NT5","NT6","IL-1b0","IL-1b1","IL-1b2","IL-1b3","IL-1b4","IL-1b5","IL-1b6","TNF0","TNF1","TNF2","TNF3","TNF4","TNF5","TNF6"],"paddingInner":0,"paddingOuter":0}},"y":{"field":"v","type":"quantitative","axis":{"values":[0,10,20,30],"title":"OCR (pmol/min)","labelOverlap":false}}}},
     {"data":{"name":"pts"},"transform":[{"filter":"datum.p=='H' && datum.r=='NC'"},{"calculate":"datum.g + datum.k","as":"s"}],"mark":{"type":"point","shape":"circle","filled":true,"color":"#111","size":18,"opacity":1},"encoding":{"xOffset":{"field":"s","type":"nominal","scale":{"domain":["NT0","NT1","NT2","NT3","NT4","NT5","NT6","IL-1b0","IL-1b1","IL-1b2","IL-1b3","IL-1b4","IL-1b5","IL-1b6","TNF0","TNF1","TNF2","TNF3","TNF4","TNF5","TNF6"],"paddingInner":0,"paddingOuter":0}},"y":{"field":"v","type":"quantitative","axis":{"values":[0,10,20,30],"title":"OCR (pmol/min)","labelOverlap":false}}}},
     {"data":{"name":"sigl"},"transform":[{"filter":"datum.p=='H'"}],"mark":{"type":"line","color":"#444","strokeWidth":1.2},"encoding":{"xOffset":{"field":"pos","type":"nominal","scale":{"domain":["NT","a","IL-1b","b","TNF"],"paddingInner":0,"paddingOuter":0.4}},"y":{"field":"y","type":"quantitative","axis":{"values":[0,10,20,30],"title":"OCR (pmol/min)","labelOverlap":false}},"detail":{"field":"c"}}},
     {"data":{"name":"sigt"},"transform":[{"filter":"datum.p=='H'"}],"mark":{"type":"text","fontSize":11,"baseline":"middle","dy":-3,"color":"#222"},"encoding":{"xOffset":{"field":"pos","type":"nominal","scale":{"domain":["NT","a","IL-1b","b","TNF"],"paddingInner":0,"paddingOuter":0.4}},"y":{"field":"y","type":"quantitative","axis":{"values":[0,10,20,30],"title":"OCR (pmol/min)","labelOverlap":false}},"text":{"field":"s"}}}
    ],
    "resolve":{"scale":{"xOffset":"independent"}}}]}
 ]},
 {"spacing":6,"hconcat":[
  {"title":{"text":"I","anchor":"start","font":"Liberation Serif","fontSize":21,"fontWeight":"bold","dy":20,"offset":0,"frame":"bounds"},
   "vconcat":[{"width":206,"height":130,"title":{"text":"ATP Production","fontSize":15,"offset":17},
    "encoding":{"x":{"field":"r","type":"nominal","sort":["OAC","NC"],"scale":{"paddingInner":0.1,"paddingOuter":0.07},"axis":{"title":null,"labelAngle":0,"ticks":false,"labelFontSize":13,"labelPadding":3}}},
    "layer":[
     {"data":{"name":"bars"},"transform":[{"filter":"datum.p=='I'"}],"encoding":{"xOffset":{"field":"g","type":"nominal","scale":{"domain":["NT","IL-1b","TNF"],"paddingInner":0.1,"paddingOuter":0}}},"layer":[
      {"mark":{"type":"bar","stroke":"#4a4a4a","strokeWidth":1.4},"encoding":{"y":{"field":"m","type":"quantitative","scale":{"domain":[0,25]},"axis":{"values":[0,5,10,15,20,25],"title":"OCR (pmol/min)","labelOverlap":false}},"fill":{"field":"g","type":"nominal","scale":{"range":["#f4f9c4","#ffffff","#1692ab"]}}}},
      {"mark":{"type":"rule","color":"#4a4a4a","strokeWidth":1.4},"encoding":{"y":{"field":"m","type":"quantitative","axis":{"values":[0,5,10,15,20,25],"title":"OCR (pmol/min)","labelOverlap":false}},"y2":{"field":"h"}}},
      {"mark":{"type":"tick","color":"#4a4a4a","thickness":1.4,"size":12},"encoding":{"y":{"field":"h","type":"quantitative","axis":{"values":[0,5,10,15,20,25],"title":"OCR (pmol/min)","labelOverlap":false}}}}
     ]},
     {"data":{"name":"pts"},"transform":[{"filter":"datum.p=='I' && datum.r=='OAC'"},{"calculate":"datum.g + datum.k","as":"s"}],"mark":{"type":"point","shape":"triangle-up","filled":true,"color":"#111","size":20,"opacity":1},"encoding":{"xOffset":{"field":"s","type":"nominal","scale":{"domain":["NT0","NT1","NT2","NT3","NT4","NT5","NT6","IL-1b0","IL-1b1","IL-1b2","IL-1b3","IL-1b4","IL-1b5","IL-1b6","TNF0","TNF1","TNF2","TNF3","TNF4","TNF5","TNF6"],"paddingInner":0,"paddingOuter":0}},"y":{"field":"v","type":"quantitative","axis":{"values":[0,5,10,15,20,25],"title":"OCR (pmol/min)","labelOverlap":false}}}},
     {"data":{"name":"pts"},"transform":[{"filter":"datum.p=='I' && datum.r=='NC'"},{"calculate":"datum.g + datum.k","as":"s"}],"mark":{"type":"point","shape":"circle","filled":true,"color":"#111","size":18,"opacity":1},"encoding":{"xOffset":{"field":"s","type":"nominal","scale":{"domain":["NT0","NT1","NT2","NT3","NT4","NT5","NT6","IL-1b0","IL-1b1","IL-1b2","IL-1b3","IL-1b4","IL-1b5","IL-1b6","TNF0","TNF1","TNF2","TNF3","TNF4","TNF5","TNF6"],"paddingInner":0,"paddingOuter":0}},"y":{"field":"v","type":"quantitative","axis":{"values":[0,5,10,15,20,25],"title":"OCR (pmol/min)","labelOverlap":false}}}},
     {"data":{"name":"sigl"},"transform":[{"filter":"datum.p=='I'"}],"mark":{"type":"line","color":"#444","strokeWidth":1.2},"encoding":{"xOffset":{"field":"pos","type":"nominal","scale":{"domain":["NT","a","IL-1b","b","TNF"],"paddingInner":0,"paddingOuter":0.4}},"y":{"field":"y","type":"quantitative","axis":{"values":[0,5,10,15,20,25],"title":"OCR (pmol/min)","labelOverlap":false}},"detail":{"field":"c"}}},
     {"data":{"name":"sigt"},"transform":[{"filter":"datum.p=='I'"}],"mark":{"type":"text","fontSize":11,"baseline":"middle","dy":-3,"color":"#222"},"encoding":{"xOffset":{"field":"pos","type":"nominal","scale":{"domain":["NT","a","IL-1b","b","TNF"],"paddingInner":0,"paddingOuter":0.4}},"y":{"field":"y","type":"quantitative","axis":{"values":[0,5,10,15,20,25],"title":"OCR (pmol/min)","labelOverlap":false}},"text":{"field":"s"}}}
    ],
    "resolve":{"scale":{"xOffset":"independent"}}}]},
  {"title":{"text":"J","anchor":"start","font":"Liberation Serif","fontSize":21,"fontWeight":"bold","dy":20,"offset":0,"frame":"bounds"},
   "vconcat":[{"width":210,"height":130,"title":{"text":"NMOC","fontSize":15,"offset":0},
    "encoding":{"x":{"field":"r","type":"nominal","sort":["OAC","NC"],"scale":{"paddingInner":0.1,"paddingOuter":0.07},"axis":{"title":null,"labelAngle":0,"ticks":false,"labelFontSize":13,"labelPadding":3}}},
    "layer":[
     {"data":{"name":"bars"},"transform":[{"filter":"datum.p=='J'"}],"encoding":{"xOffset":{"field":"g","type":"nominal","scale":{"domain":["NT","IL-1b","TNF"],"paddingInner":0.1,"paddingOuter":0}}},"layer":[
      {"mark":{"type":"bar","stroke":"#4a4a4a","strokeWidth":1.4},"encoding":{"y":{"field":"m","type":"quantitative","scale":{"domain":[0,20]},"axis":{"values":[0,5,10,15,20],"title":"OCR (pmol/min)","labelOverlap":false}},"fill":{"field":"g","type":"nominal","scale":{"range":["#f4f9c4","#ffffff","#1692ab"]}}}},
      {"mark":{"type":"rule","color":"#4a4a4a","strokeWidth":1.4},"encoding":{"y":{"field":"m","type":"quantitative","axis":{"values":[0,5,10,15,20],"title":"OCR (pmol/min)","labelOverlap":false}},"y2":{"field":"h"}}},
      {"mark":{"type":"tick","color":"#4a4a4a","thickness":1.4,"size":12},"encoding":{"y":{"field":"h","type":"quantitative","axis":{"values":[0,5,10,15,20],"title":"OCR (pmol/min)","labelOverlap":false}}}}
     ]},
     {"data":{"name":"pts"},"transform":[{"filter":"datum.p=='J' && datum.r=='OAC'"},{"calculate":"datum.g + datum.k","as":"s"}],"mark":{"type":"point","shape":"triangle-up","filled":true,"color":"#111","size":20,"opacity":1},"encoding":{"xOffset":{"field":"s","type":"nominal","scale":{"domain":["NT0","NT1","NT2","NT3","NT4","NT5","NT6","IL-1b0","IL-1b1","IL-1b2","IL-1b3","IL-1b4","IL-1b5","IL-1b6","TNF0","TNF1","TNF2","TNF3","TNF4","TNF5","TNF6"],"paddingInner":0,"paddingOuter":0}},"y":{"field":"v","type":"quantitative","axis":{"values":[0,5,10,15,20],"title":"OCR (pmol/min)","labelOverlap":false}}}},
     {"data":{"name":"pts"},"transform":[{"filter":"datum.p=='J' && datum.r=='NC'"},{"calculate":"datum.g + datum.k","as":"s"}],"mark":{"type":"point","shape":"circle","filled":true,"color":"#111","size":18,"opacity":1},"encoding":{"xOffset":{"field":"s","type":"nominal","scale":{"domain":["NT0","NT1","NT2","NT3","NT4","NT5","NT6","IL-1b0","IL-1b1","IL-1b2","IL-1b3","IL-1b4","IL-1b5","IL-1b6","TNF0","TNF1","TNF2","TNF3","TNF4","TNF5","TNF6"],"paddingInner":0,"paddingOuter":0}},"y":{"field":"v","type":"quantitative","axis":{"values":[0,5,10,15,20],"title":"OCR (pmol/min)","labelOverlap":false}}}},
     {"data":{"name":"sigl"},"transform":[{"filter":"datum.p=='J'"}],"mark":{"type":"line","color":"#444","strokeWidth":1.2},"encoding":{"xOffset":{"field":"pos","type":"nominal","scale":{"domain":["NT","a","IL-1b","b","TNF"],"paddingInner":0,"paddingOuter":0.4}},"y":{"field":"y","type":"quantitative","axis":{"values":[0,5,10,15,20],"title":"OCR (pmol/min)","labelOverlap":false}},"detail":{"field":"c"}}},
     {"data":{"name":"sigt"},"transform":[{"filter":"datum.p=='J'"}],"mark":{"type":"text","fontSize":11,"baseline":"middle","dy":-3,"color":"#222"},"encoding":{"xOffset":{"field":"pos","type":"nominal","scale":{"domain":["NT","a","IL-1b","b","TNF"],"paddingInner":0,"paddingOuter":0.4}},"y":{"field":"y","type":"quantitative","axis":{"values":[0,5,10,15,20],"title":"OCR (pmol/min)","labelOverlap":false}},"text":{"field":"s"}}}
    ],
    "resolve":{"scale":{"xOffset":"independent"}}}]},
  {"title":{"text":"K","anchor":"start","font":"Liberation Serif","fontSize":21,"fontWeight":"bold","dy":20,"dx":-6,"offset":0,"frame":"bounds"},
   "vconcat":[{"width":212,"height":129,"title":{"text":"Cell supernatants","fontSize":15,"offset":9},
    "encoding":{"x":{"field":"r","type":"nominal","sort":["OAC","NC"],"scale":{"paddingInner":0.1,"paddingOuter":0.07},"axis":{"title":null,"labelAngle":0,"ticks":false,"labelFontSize":13,"labelPadding":3}}},
    "layer":[
     {"data":{"name":"bars"},"transform":[{"filter":"datum.p=='K'"}],"encoding":{"xOffset":{"field":"g","type":"nominal","scale":{"domain":["NT","IL-1b","TNF"],"paddingInner":0.1,"paddingOuter":0}}},"layer":[
      {"mark":{"type":"bar","stroke":"#4a4a4a","strokeWidth":1.4},"encoding":{"y":{"field":"m","type":"quantitative","scale":{"domain":[0,20]},"axis":{"values":[0,5,10,15,20],"title":"Nitrites (μM)","labelOverlap":false}},"fill":{"field":"g","type":"nominal","scale":{"range":["#f4f9c4","#ffffff","#1692ab"]}}}},
      {"mark":{"type":"rule","color":"#4a4a4a","strokeWidth":1.4},"encoding":{"y":{"field":"m","type":"quantitative","axis":{"values":[0,5,10,15,20],"title":"Nitrites (μM)","labelOverlap":false}},"y2":{"field":"h"}}},
      {"mark":{"type":"tick","color":"#4a4a4a","thickness":1.4,"size":12},"encoding":{"y":{"field":"h","type":"quantitative","axis":{"values":[0,5,10,15,20],"title":"Nitrites (μM)","labelOverlap":false}}}}
     ]},
     {"data":{"name":"pts"},"transform":[{"filter":"datum.p=='K' && datum.r=='OAC'"},{"calculate":"datum.g + datum.k","as":"s"}],"mark":{"type":"point","shape":"triangle-up","filled":true,"color":"#111","size":20,"opacity":1},"encoding":{"xOffset":{"field":"s","type":"nominal","scale":{"domain":["NT0","NT1","NT2","NT3","NT4","NT5","NT6","NT7","NT8","NT9","IL-1b0","IL-1b1","IL-1b2","IL-1b3","IL-1b4","IL-1b5","IL-1b6","IL-1b7","IL-1b8","IL-1b9","TNF0","TNF1","TNF2","TNF3","TNF4","TNF5","TNF6","TNF7","TNF8","TNF9"],"paddingInner":0,"paddingOuter":0}},"y":{"field":"v","type":"quantitative","axis":{"values":[0,5,10,15,20],"title":"Nitrites (μM)","labelOverlap":false}}}},
     {"data":{"name":"pts"},"transform":[{"filter":"datum.p=='K' && datum.r=='NC'"},{"calculate":"datum.g + datum.k","as":"s"}],"mark":{"type":"point","shape":"circle","filled":true,"color":"#111","size":18,"opacity":1},"encoding":{"xOffset":{"field":"s","type":"nominal","scale":{"domain":["NT0","NT1","NT2","NT3","NT4","NT5","NT6","NT7","NT8","NT9","IL-1b0","IL-1b1","IL-1b2","IL-1b3","IL-1b4","IL-1b5","IL-1b6","IL-1b7","IL-1b8","IL-1b9","TNF0","TNF1","TNF2","TNF3","TNF4","TNF5","TNF6","TNF7","TNF8","TNF9"],"paddingInner":0,"paddingOuter":0}},"y":{"field":"v","type":"quantitative","axis":{"values":[0,5,10,15,20],"title":"Nitrites (μM)","labelOverlap":false}}}},
     {"data":{"name":"sigl"},"transform":[{"filter":"datum.p=='K'"}],"mark":{"type":"line","color":"#444","strokeWidth":1.2},"encoding":{"xOffset":{"field":"pos","type":"nominal","scale":{"domain":["NT","a","IL-1b","b","TNF"],"paddingInner":0,"paddingOuter":0.4}},"y":{"field":"y","type":"quantitative","axis":{"values":[0,5,10,15,20],"title":"Nitrites (μM)","labelOverlap":false}},"detail":{"field":"c"}}},
     {"data":{"name":"sigt"},"transform":[{"filter":"datum.p=='K'"}],"mark":{"type":"text","fontSize":11,"baseline":"middle","dy":-3,"color":"#222"},"encoding":{"xOffset":{"field":"pos","type":"nominal","scale":{"domain":["NT","a","IL-1b","b","TNF"],"paddingInner":0,"paddingOuter":0.4}},"y":{"field":"y","type":"quantitative","axis":{"values":[0,5,10,15,20],"title":"Nitrites (μM)","labelOverlap":false}},"text":{"field":"s"}}}
    ],
    "resolve":{"scale":{"xOffset":"independent"}}}]}
 ]}
]}
]
}
